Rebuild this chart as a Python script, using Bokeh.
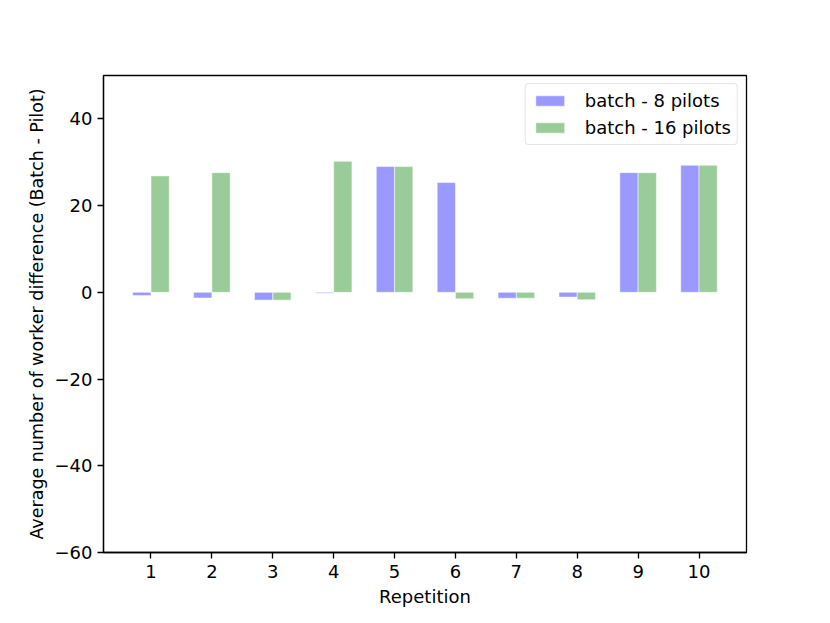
from bokeh.plotting import figure
from bokeh.models import ColumnDataSource, FixedTicker, Range1d, Legend, LegendItem
from bokeh.transform import dodge
from bokeh.embed import file_html
from bokeh.resources import INLINE

repetitions = [1, 2, 3, 4, 5, 6, 7, 8, 9, 10]
batch_8_pilots = [-0.75, -1.3, -1.8, -0.2, 29.0, 25.3, -1.35, -1.1, 27.6, 29.3]
batch_16_pilots = [26.85, 27.6, -1.8, 30.2, 29.0, -1.5, -1.35, -1.7, 27.6, 29.3]
series_labels = ["batch - 8 pilots", "batch - 16 pilots"]
y_ticks = [-60, -40, -20, 0, 20, 40]

FONT = "DejaVu Sans"
FS = "18px"

src = ColumnDataSource(dict(rep=repetitions, b8=batch_8_pilots, b16=batch_16_pilots))

p = figure(width=806, height=609, output_backend="svg", toolbar_location=None,
           x_range=Range1d(0.22, 10.78), y_range=Range1d(-60, 50),
           min_border_left=103, min_border_top=75, min_border_right=60, min_border_bottom=55)

r1 = p.vbar(x=dodge("rep", -0.15, range=p.x_range), top="b8", width=0.3, source=src,
            fill_color="#9999ff", line_color="white", line_alpha=0.5, line_width=1)
r2 = p.vbar(x=dodge("rep", 0.15, range=p.x_range), top="b16", width=0.3, source=src,
            fill_color="#99cc99", line_color="white", line_alpha=0.5, line_width=1)

p.xgrid.visible = False
p.ygrid.visible = False
p.outline_line_color = "black"
p.outline_line_width = 1.3
p.outline_line_alpha = 1

p.xaxis.ticker = FixedTicker(ticks=repetitions)
p.yaxis.ticker = FixedTicker(ticks=y_ticks)
p.yaxis.major_label_overrides = {t: (str(t).replace("-", "\u2212")) for t in y_ticks}

for ax in (p.xaxis[0], p.yaxis[0]):
    ax.major_tick_in = 0
    ax.major_tick_out = 6
    ax.minor_tick_line_color = None
    ax.axis_line_width = 1.3
    ax.major_tick_line_width = 1.3
    ax.axis_line_color = "black"
    ax.major_tick_line_color = "black"
    ax.major_label_text_font = FONT
    ax.major_label_text_font_size = FS
    ax.major_label_text_color = "black"
    ax.axis_label_text_font = FONT
    ax.axis_label_text_font_size = FS
    ax.axis_label_text_font_style = "normal"
    ax.axis_label_text_color = "black"

p.xaxis.axis_label = "Repetition"
p.yaxis.axis_label = "Average number of worker difference (Batch - Pilot)"
p.yaxis.axis_label_text_font_size = "17.5px"
p.xaxis.major_label_standoff = 6
p.xaxis.axis_label_standoff = 5
p.yaxis.major_label_standoff = 5
p.yaxis.axis_label_standoff = 5

legend = Legend(items=[LegendItem(label=series_labels[0], renderers=[r1]),
                       LegendItem(label=series_labels[1], renderers=[r2])],
                location="top_right", margin=8)
legend.label_text_font = FONT
legend.label_text_font_size = FS
legend.label_text_color = "black"
legend.glyph_width = 36
legend.glyph_height = 13
legend.label_standoff = 17
legend.label_height = 20
legend.spacing = 6
legend.padding = 6
legend.border_line_color = "#cccccc"
legend.border_line_width = 1
legend.border_radius = 4
legend.background_fill_alpha = 0.8
p.add_layout(legend)

open("out.html", "w").write(file_html(p, INLINE))
